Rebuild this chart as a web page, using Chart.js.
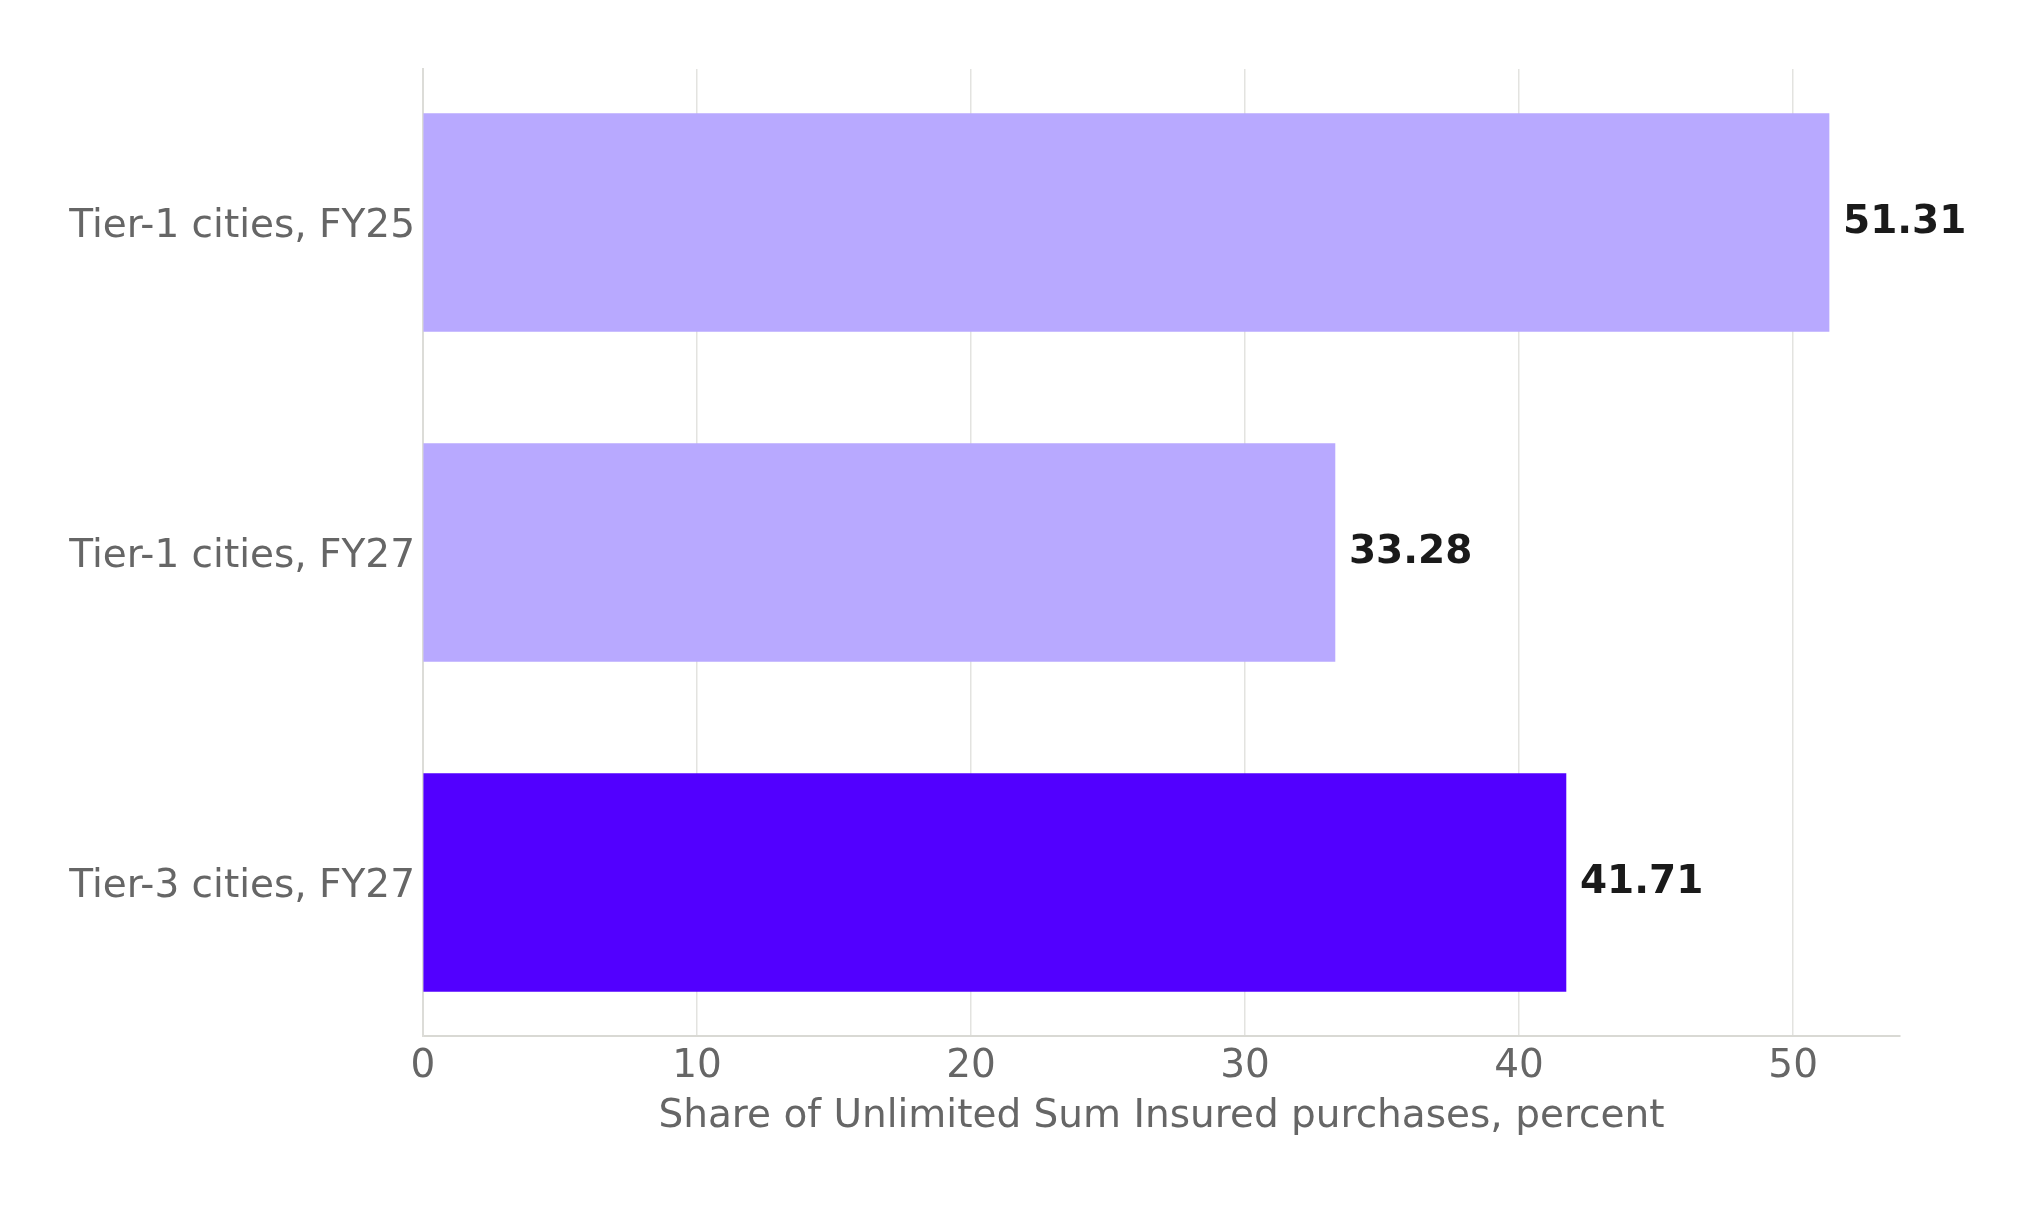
<!DOCTYPE html>
<html>
<head>
<meta charset="utf-8">
<script src="https://cdn.jsdelivr.net/npm/chart.js@4.4.1/dist/chart.umd.min.js"></script>
<style>
  html, body { margin: 0; padding: 0; background: #fff; }
  #wrap { width: 2036px; height: 1206px; }
</style>
</head>
<body>
<div id="wrap"><canvas id="chart"></canvas></div>
<script>
// data
const categories = ["Tier-1 cities, FY25", "Tier-1 cities, FY27", "Tier-3 cities, FY27"];
const shares = [51.31, 33.28, 41.71];
const barColors = ["#b8a9ff", "#b8a9ff", "#5200ff"];
const xTicks = [0, 10, 20, 30, 40, 50];

const FONT = "'DejaVu Sans', sans-serif";

// draw the value at the end of each bar
const valueLabels = {
    id: "valueLabels",
    afterDatasetsDraw(chart) {
        const ctx = chart.ctx;
        const meta = chart.getDatasetMeta(0);
        ctx.save();
        ctx.font = "bold 39px " + FONT;
        ctx.fillStyle = "#1a1a1a";
        ctx.textAlign = "left";
        ctx.textBaseline = "middle";
        meta.data.forEach(function (bar, i) {
            ctx.fillText(shares[i].toFixed(2), bar.x + 14, bar.y);
        });
        ctx.restore();
    }
};

new Chart(document.getElementById("chart"), {
    type: "bar",
    data: {
        datasets: [{
            data: shares.map(function (v, i) { return { x: v, y: i }; }),
            backgroundColor: barColors,
            borderWidth: 0,
            barThickness: 218
        }]
    },
    options: {
        indexAxis: "y",
        responsive: true,
        maintainAspectRatio: false,
        animation: false,
        layout: { padding: { left: 0, top: 69, right: 136, bottom: 66 } },
        plugins: {
            legend: { display: false },
            tooltip: { enabled: false }
        },
        scales: {
            x: {
                type: "linear",
                min: 0,
                max: 53.9,
                afterBuildTicks: function (axis) {
                    axis.ticks = xTicks.map(function (v) { return { value: v }; });
                },
                afterFit: function (axis) { axis.height = 104; },
                grid: {
                    color: "#e3e3e0",
                    lineWidth: 1.5,
                    tickLength: 0,
                    drawTicks: false
                },
                border: { display: true, color: "#d9d9d4", width: 2 },
                ticks: {
                    color: "#666666",
                    font: { family: FONT, size: 39 },
                    padding: 7
                },
                title: {
                    display: true,
                    text: "Share of Unlimited Sum Insured purchases, percent",
                    color: "#666666",
                    font: { family: FONT, size: 39 },
                    padding: { top: 0, bottom: 0 }
                }
            },
            y: {
                type: "linear",
                reverse: true,
                offset: false,
                min: -0.465,
                max: 2.465,
                afterBuildTicks: function (axis) {
                    axis.ticks = categories.map(function (c, i) { return { value: i }; });
                },
                afterFit: function (axis) { axis.width = 423; },
                grid: { display: false, drawTicks: false },
                border: { display: true, color: "#dcdcd8", width: 2 },
                ticks: {
                    color: "#666666",
                    font: { family: FONT, size: 39 },
                    padding: 8,
                    labelOffset: 4,
                    callback: function (v) { return categories[v]; }
                }
            }
        }
    },
    plugins: [valueLabels]
});
</script>
</body>
</html>
